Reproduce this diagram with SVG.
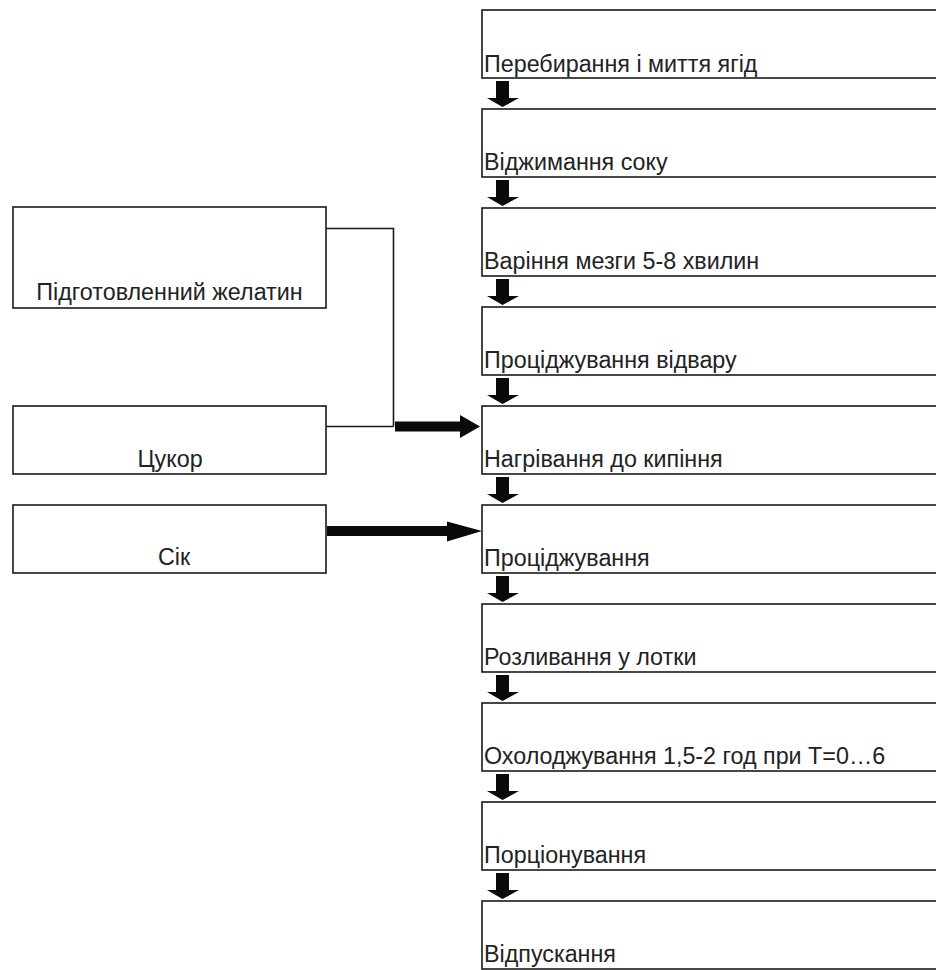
<svg xmlns="http://www.w3.org/2000/svg" width="936" height="970" viewBox="0 0 936 970">
<style>
.box{fill:#fff;stroke:#1a1a1a;stroke-width:1.6}
.t{font-family:"Liberation Sans",Arial,sans-serif;font-size:23.3px;fill:#222}
.c{text-anchor:middle}
.ln{fill:none;stroke:#1a1a1a;stroke-width:1.6}
.ar{fill:#0a0a0a}
</style>
<rect width="936" height="970" fill="#fff"/>
<g id="connectors">
<path class="ln" d="M326 228.5 H393.5 V426.5 M326 426.5 H393.5"/>
<path class="ar" d="M395 421.5 H460 V415 L480 426.5 L460 438 V431.5 H395 Z"/>
<path class="ar" d="M327 526 H447 V521.5 L482 531 L447 541.5 V536 H327 Z"/>
<path id="da" class="ar" d="M496 81 H509 V98 H519 L502.5 107 L487 98 H496 Z"/>
<use href="#da" y="99"/>
<use href="#da" y="198"/>
<use href="#da" y="297"/>
<use href="#da" y="396"/>
<use href="#da" y="495"/>
<use href="#da" y="594"/>
<use href="#da" y="693"/>
<use href="#da" y="792"/>
</g>
<g id="n1"><rect class="box" x="482" y="10" width="470" height="68"/><text class="t" x="484" y="72">Перебирання і миття ягід</text></g>
<g id="n2"><rect class="box" x="482" y="109" width="470" height="68"/><text class="t" x="484" y="170">Віджимання соку</text></g>
<g id="n3"><rect class="box" x="482" y="208" width="470" height="68"/><text class="t" x="484" y="269">Варіння мезги 5-8 хвилин</text></g>
<g id="n4"><rect class="box" x="482" y="307" width="470" height="68"/><text class="t" x="484" y="368">Проціджування відвару</text></g>
<g id="n5"><rect class="box" x="482" y="406" width="470" height="68"/><text class="t" x="484" y="467">Нагрівання до кипіння</text></g>
<g id="n6"><rect class="box" x="482" y="505" width="470" height="68"/><text class="t" x="484" y="566">Проціджування</text></g>
<g id="n7"><rect class="box" x="482" y="604" width="470" height="68"/><text class="t" x="484" y="665">Розливання у лотки</text></g>
<g id="n8"><rect class="box" x="482" y="703" width="470" height="68"/><text class="t" x="484" y="764">Охолоджування 1,5-2 год при Т=0…6</text></g>
<g id="n9"><rect class="box" x="482" y="802" width="470" height="68"/><text class="t" x="484" y="863">Порціонування</text></g>
<g id="n10"><rect class="box" x="482" y="901" width="470" height="68"/><text class="t" x="484" y="962">Відпускання</text></g>
<g id="gelatin"><rect class="box" x="13" y="207" width="313" height="101"/><text class="t c" x="169.5" y="300">Підготовленний желатин</text></g>
<g id="sugar"><rect class="box" x="13" y="406" width="313" height="68"/><text class="t c" x="170" y="467">Цукор</text></g>
<g id="juice"><rect class="box" x="13" y="505" width="313" height="68"/><text class="t c" x="174" y="565">Сік</text></g>
</svg>
